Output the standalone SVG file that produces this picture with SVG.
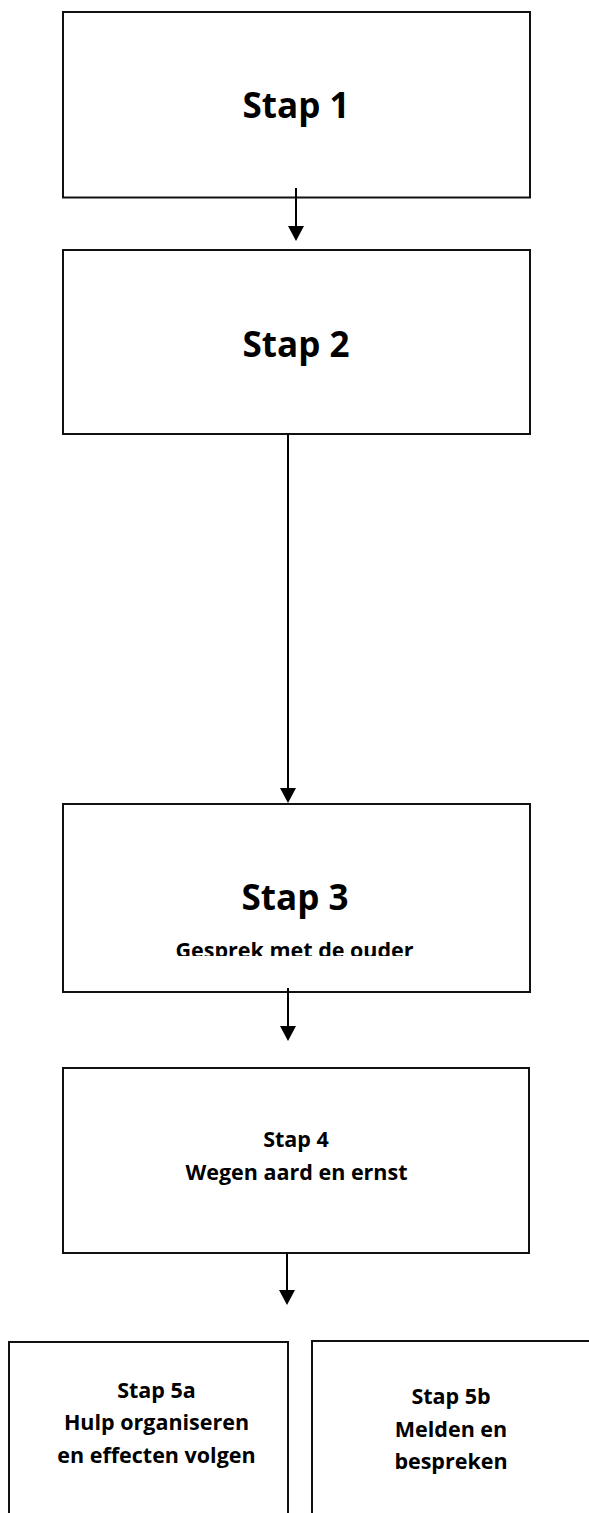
<svg xmlns="http://www.w3.org/2000/svg" width="589" height="1513" viewBox="0 0 589 1513">
<style>
.box{fill:#fff;stroke:#111;stroke-width:2}
.big{font-family:"Open Sans","Liberation Sans",sans-serif;font-weight:bold;font-size:35px;fill:#000;text-anchor:middle}
.sm{font-family:"Open Sans","Liberation Sans",sans-serif;font-weight:bold;font-size:21.5px;fill:#000;text-anchor:middle}
.conn{stroke:#000;stroke-width:2;fill:none}
</style>
<defs>
<marker id="ah" viewBox="0 0 15 16" refX="12" refY="8" markerWidth="15" markerHeight="16" markerUnits="userSpaceOnUse" orient="auto">
<path d="M0,0 L15,8 L0,16 z" fill="#000"/>
</marker>
<clipPath id="c3"><rect x="63" y="804" width="467" height="152"/></clipPath>
</defs>
<g id="stap1"><rect class="box" x="63" y="12" width="467" height="185.5"/><text class="big" x="296" y="118">Stap 1</text></g>
<g id="stap2"><rect class="box" x="63" y="250" width="467" height="184"/><text class="big" x="296" y="357">Stap 2</text></g>
<g id="stap3"><rect class="box" x="63" y="804" width="467" height="188"/><text class="big" x="295" y="910">Stap 3</text><text class="sm" x="294.5" y="958" clip-path="url(#c3)">Gesprek met de ouder</text></g>
<g id="stap4"><rect class="box" x="63" y="1068" width="466" height="185"/><text class="sm" x="296" y="1147">Stap 4</text><text class="sm" x="296.5" y="1180">Wegen aard en ernst</text></g>
<g id="stap5a"><rect class="box" x="9" y="1342" width="279" height="200"/><text class="sm" x="156.5" y="1398">Stap 5a</text><text class="sm" x="156.5" y="1430">Hulp organiseren</text><text class="sm" x="156.5" y="1463">en effecten volgen</text></g>
<g id="stap5b"><rect class="box" x="312" y="1341" width="300" height="200"/><text class="sm" x="451" y="1404">Stap 5b</text><text class="sm" x="451" y="1437">Melden en</text><text class="sm" x="451" y="1469">bespreken</text></g>
<g id="connectors">
<path class="conn" d="M296,188 V238" marker-end="url(#ah)"/>
<path class="conn" d="M288,434 V800" marker-end="url(#ah)"/>
<path class="conn" d="M288,988 V1038" marker-end="url(#ah)"/>
<path class="conn" d="M287,1253 V1302" marker-end="url(#ah)"/>
</g>
</svg>
